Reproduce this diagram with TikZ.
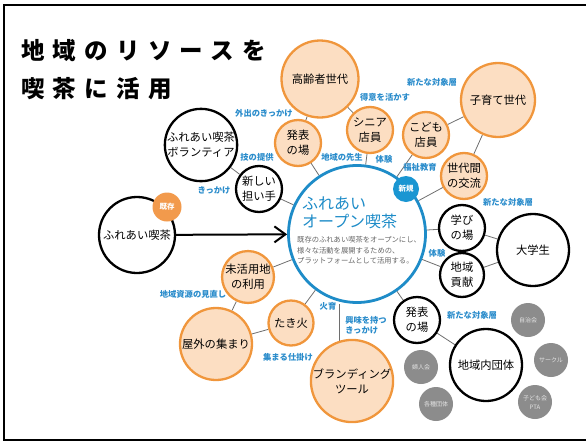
\documentclass[tikz,border=0pt]{standalone}
\usepackage{fontspec}
\setmainfont{Noto Sans CJK JP}
\newfontfamily\titlefont{Noto Sans CJK JP}[LetterSpace=35]
\usepackage{tikz}
\usetikzlibrary{calc,arrows.meta,backgrounds}

\definecolor{orngline}{HTML}{F0963C}
\definecolor{orngfill}{HTML}{FCDEC2}
\definecolor{orngtag}{HTML}{F29A4C}
\definecolor{cafeblue}{HTML}{1E8CC8}
\definecolor{newblue}{HTML}{1A96D2}
\definecolor{lblblue}{HTML}{2A8CCB}
\definecolor{gryfill}{HTML}{8C8C8C}
\definecolor{grytext}{HTML}{E4E4E4}
\definecolor{lnkgray}{HTML}{6E6E6E}
\definecolor{smalltext}{HTML}{666666}

\begin{document}
\begin{tikzpicture}[x=1pt,y=-1pt,
  orng/.style={circle,draw=orngline,fill=orngfill,line width=2.3pt,inner sep=0,align=center,font=\fontsize{11.3}{15}\selectfont},
  blk/.style={circle,draw=black,fill=white,line width=2.3pt,inner sep=0,align=center,font=\fontsize{11.3}{15}\selectfont},
  gry/.style={circle,fill=gryfill,text=grytext,inner sep=0,minimum size=34pt,align=center,font=\fontsize{6}{9}\selectfont},
  tag/.style={circle,text=white,inner sep=0,font=\bfseries\fontsize{7.5}{9}\selectfont},
  lbl/.style={text=lblblue,inner sep=0,align=left,font=\bfseries\fontsize{8.3}{10}\selectfont},
  lnk/.style={draw=lnkgray,line width=0.8pt}]
  \path[use as bounding box] (0,0) rectangle (586,442);
  \draw[line width=2pt] (590,5.3) -- (4.3,5.3) -- (4.3,440) -- (590,440);

  % title
  \node[anchor=west,inner sep=0,font=\titlefont\bfseries\fontsize{23.5}{30}\selectfont] (title1) at (21,51) {地域のリソースを};
  \node[anchor=west,inner sep=0,font=\titlefont\bfseries\fontsize{23.5}{30}\selectfont] (title2) at (21,89) {喫茶に活用};

  % centre
  \node[circle,draw=cafeblue,fill=white,line width=2.8pt,minimum size=137pt] (cafe) at (357,234) {};
  \node[anchor=west,inner sep=0,align=left,text=cafeblue,font=\fontsize{16}{17.5}\selectfont] (cafetitle) at (302,213) {ふれあい\\オープン喫茶};
  \node[anchor=west,inner sep=0,align=left,text=smalltext,font=\fontsize{7.3}{10.3}\selectfont] (cafetext) at (297,250.5) {既存のふれあい喫茶をオープンにし、\\様々な活動を展開するための、\\プラットフォームとして活用する。};
  \node[tag,fill=newblue,minimum size=26pt] (newtag) at (406,189) {新規};

  % upper side
  \node[orng,minimum size=77pt] (elder) at (320,79) {高齢者世代};
  \node[orng,minimum size=74pt] (parent) at (498,100) {子育て世代};
  \node[orng,minimum size=46pt] (senior) at (370,130) {シニア\\店員};
  \node[orng,minimum size=46pt] (kids) at (426,135) {こども\\店員};
  \node[orng,minimum size=46pt] (gen) at (464,176) {世代間\\の交流};
  \node[orng,minimum size=46pt] (stage1) at (298,143) {発表\\の場};

  % left side
  \node[blk,minimum size=72pt] (vol) at (201,145) {ふれあい喫茶\\ボランティア};
  \node[blk,minimum size=46pt] (newhand) at (259,189) {新しい\\担い手};
  \node[blk,minimum size=76pt] (oldcafe) at (137,235) {ふれあい喫茶};
  \node[tag,fill=orngtag,minimum size=29pt] (oldtag) at (167,207) {既存};

  % lower side
  \node[orng,minimum size=46pt] (land) at (248,277) {未活用地\\の利用};
  \node[orng,minimum size=72pt] (outdoor) at (216,344) {屋外の集まり};
  \node[orng,minimum size=45pt] (fire) at (291,323) {たき火};
  \node[orng,minimum size=71pt] (brand) at (352,381) {ブランディング\\ツール};

  % right side
  \node[blk,minimum size=46pt] (learn) at (462,228) {学び\\の場};
  \node[blk,minimum size=44pt] (contrib) at (462,275) {地域\\貢献};
  \node[blk,minimum size=72pt] (univ) at (533,250) {大学生};
  \node[blk,minimum size=46pt] (stage2) at (417,320) {発表\\の場};
  \node[blk,minimum size=72pt] (group) at (486,365) {地域内団体};

  \foreach \n/\p/\t in {g1/{(528,320)}/自治会, g2/{(551,360)}/サークル, g3/{(535,402)}/{子ども会\\PTA}, g4/{(436,404)}/各種団体, g5/{(421,367)}/婦人会}
    \node[gry] (\n) at \p {\t};

  % links
  \begin{scope}[on background layer]
    \draw[lnk] (elder) -- (stage1);
    \draw[lnk] (elder) -- (senior);
    \draw[lnk] (stage1) -- (cafe);
    \draw[lnk] (senior) -- (cafe);
    \draw[lnk] (kids) -- (cafe);
    \draw[lnk] (kids) -- (parent);
    \draw[lnk] (parent) -- (gen);
    \draw[lnk] (gen) -- (cafe);
    \draw[lnk] (vol) -- (newhand);
    \draw[lnk] (newhand) -- (cafe);
    \draw[lnk] (land) -- (cafe);
    \draw[lnk] (land) -- (outdoor);
    \draw[lnk] (outdoor) -- (fire);
    \draw[lnk] (fire) -- (cafe);
    \draw[lnk] (brand.107) -- (brand.107 |- cafe.south);
    \draw[lnk] (cafe) -- (learn);
    \draw[lnk] (cafe) -- (contrib);
    \draw[lnk] (cafe) -- (stage2);
    \draw[lnk] (learn) -- (univ);
    \draw[lnk] (contrib) -- (univ);
    \draw[lnk] (stage2) -- (group);
  \end{scope}
  \draw[line width=2pt,-{Straight Barb[length=11pt,width=16pt]}] (oldcafe) -- (cafe);

  % labels
  \node[lbl] at (264,113) {外出のきっかけ};
  \node[lbl] at (257,157) {技の提供};
  \node[lbl] at (214,190) {きっかけ};
  \node[lbl] at (385,97) {得意を活かす};
  \node[lbl] at (432,82) {新たな対象層};
  \node[lbl] at (342,157) {地域の先生};
  \node[lbl] at (384,159) {体験};
  \node[lbl] at (420,167) {福祉教育};
  \node[lbl] at (508,202) {新たな対象層};
  \node[lbl] at (437,253) {体験};
  \node[lbl] at (193,294) {地域資源の見直し};
  \node[lbl] at (328,306) {火育};
  \node[lbl] at (366,325) {興味を持つ\\きっかけ};
  \node[lbl] at (288,357) {集まる仕掛け};
  \node[lbl] at (472,315) {新たな対象層};
\end{tikzpicture}
\end{document}
